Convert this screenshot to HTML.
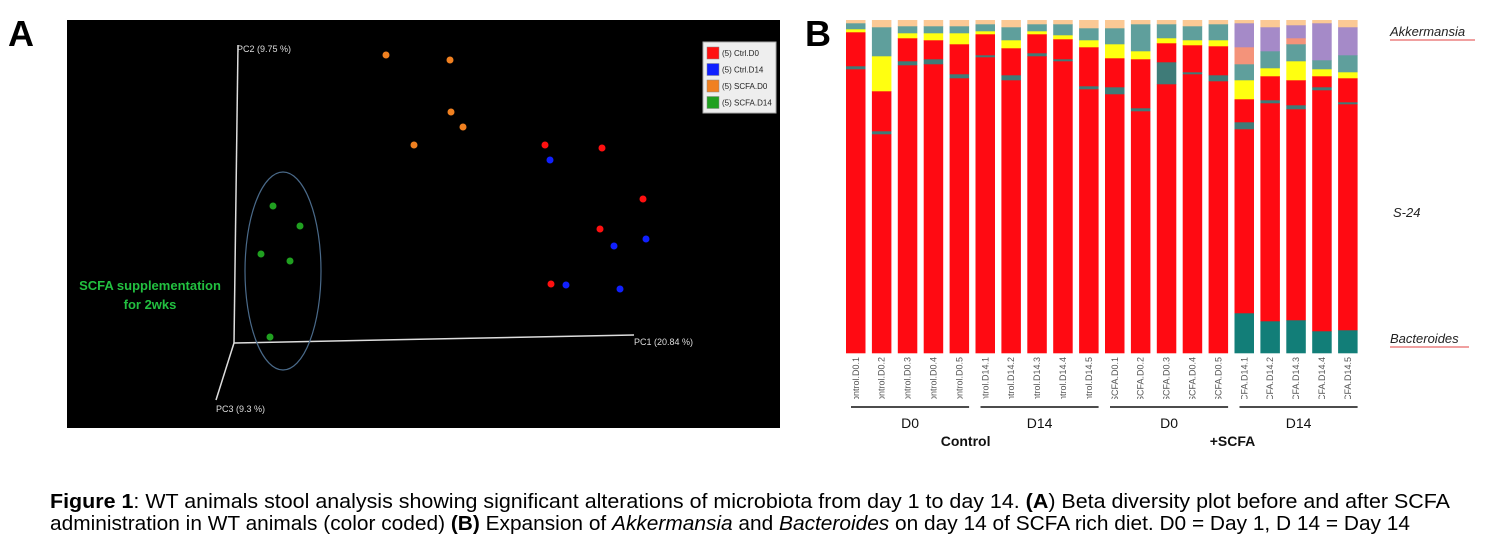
<!DOCTYPE html>
<html><head><meta charset="utf-8"><style>
body{margin:0;background:#fff;width:1486px;height:553px;overflow:hidden;font-family:"Liberation Sans",sans-serif}
</style></head><body>
<svg width="1486" height="553" xmlns="http://www.w3.org/2000/svg" font-family="Liberation Sans, sans-serif">
<text x="8" y="46" font-size="36" font-weight="bold">A</text>
<text x="805" y="46" font-size="36" font-weight="bold">B</text>
<rect x="67" y="20" width="713" height="408" fill="#000"/>
<g id="pcoa">
<line x1="234" y1="343" x2="238" y2="45" stroke="#ddd" stroke-width="1.5"/>
<line x1="234" y1="343" x2="634" y2="335" stroke="#ddd" stroke-width="1.5"/>
<line x1="234" y1="343" x2="216" y2="400" stroke="#ddd" stroke-width="1.5"/>
<text x="237" y="52" fill="#ddd" font-size="9">PC2 (9.75 %)</text>
<text x="634" y="345" fill="#ddd" font-size="9">PC1 (20.84 %)</text>
<text x="216" y="412" fill="#ddd" font-size="9">PC3 (9.3 %)</text>
<ellipse cx="283" cy="271" rx="38" ry="99" fill="none" stroke="#4a6a8a" stroke-width="1.2"/>
<text x="150" y="290" fill="#22c040" font-size="13" font-weight="bold" text-anchor="middle">SCFA supplementation</text>
<text x="150" y="309" fill="#22c040" font-size="13" font-weight="bold" text-anchor="middle">for 2wks</text>
<rect x="703" y="42" width="73" height="71" fill="#eee" stroke="#aaa"/>
</g>
<g id="bars"></g>
<text x="1390" y="36" font-size="13" font-style="italic" fill="#222">Akkermansia</text>
<line x1="1390" y1="40" x2="1475" y2="40" stroke="#e04040" stroke-width="1"/>
<text x="1393" y="217" font-size="13" font-style="italic" fill="#222">S-24</text>
<text x="1390" y="343" font-size="13" font-style="italic" fill="#222">Bacteroides</text>
<line x1="1390" y1="347" x2="1469" y2="347" stroke="#e04040" stroke-width="1"/>
<text x="50" y="508" font-size="20.5" fill="#000" textLength="1400" lengthAdjust="spacingAndGlyphs"><tspan font-weight="bold">Figure 1</tspan>: WT animals stool analysis showing significant alterations of microbiota from day 1 to day 14. <tspan font-weight="bold">(A</tspan>) Beta diversity plot before and after SCFA</text>
<text x="50" y="530" font-size="20.5" fill="#000" textLength="1360" lengthAdjust="spacingAndGlyphs">administration in WT animals (color coded) <tspan font-weight="bold">(B)</tspan> Expansion of <tspan font-style="italic">Akkermansia</tspan> and <tspan font-style="italic">Bacteroides</tspan> on day 14 of SCFA rich diet. D0 = Day 1, D 14 = Day 14</text>
</svg>
<script>
// PCoA data (screen-projected coordinates)
const groups=["(5) Ctrl.D0","(5) Ctrl.D14","(5) SCFA.D0","(5) SCFA.D14"];
const groupColors=["#ff1010","#1020ff","#f08020","#20a020"];
const pcX=[[545,602,643,600,551],[550,614,646,566,620],[386,450,451,463,414],[273,300,261,290,270]];
const pcY=[[145,148,199,229,284],[160,246,239,285,289],[55,60,112,127,145],[206,226,254,261,337]];
// Bar chart data (relative abundance, normalized per sample)
const samples=["Control.D0.1","Control.D0.2","Control.D0.3","Control.D0.4","Control.D0.5","Control.D14.1","Control.D14.2","Control.D14.3","Control.D14.4","Control.D14.5","SCFA.D0.1","SCFA.D0.2","SCFA.D0.3","SCFA.D0.4","SCFA.D0.5","SCFA.D14.1","SCFA.D14.2","SCFA.D14.3","SCFA.D14.4","SCFA.D14.5"];
const taxa=["Bacteroides","S-24 a","minor","S-24 b","yellow","cadet","salmon","Akkermansia","peach"];
const taxaColors=["#127e78","#ff0a12","#3f7b78","#ff0a12","#ffff10","#5f9f9c","#f4937a","#a58ac8","#fbc995"];
const bacteroides=[0,0,0,0,0,0,0,0,0,0,0,0,0,0,0,40,32,33,22,23];
const s24a=[284,219,288,289,275,296,273,297,292,264,259,242,269,279,272,184,218,211,241,226];
const minor=[3,3,4,5,4,2,5,3,2,3,7,3,22,2,6,7,3,4,3,2];
const s24b=[34,40,23,19,30,21,27,19,20,39,29,49,19,27,29,23,24,25,11,24];
const yellow=[3,35,5,7,11,3,8,3,4,7,14,8,5,5,6,19,8,19,7,6];
const cadet=[6,29,7,7,7,7,13,7,11,12,16,27,14,14,16,16,17,17,9,17];
const salmon=[0,0,0,0,0,0,0,0,0,0,0,0,0,0,0,17,0,6,0,0];
const akkermansia=[0,0,0,0,0,0,0,0,0,0,0,0,0,0,0,24,24,13,37,28];
const peach=[3,7,6,6,6,4,7,4,4,8,8,4,4,6,4,3,7,5,3,7];
const series=[bacteroides,s24a,minor,s24b,yellow,cadet,salmon,akkermansia,peach];

const NS="http://www.w3.org/2000/svg";
function mk(t,a,p){const e=document.createElementNS(NS,t);for(const k in a)e.setAttribute(k,a[k]);p.appendChild(e);return e;}
const pc=document.getElementById('pcoa');
pcX.forEach((xs,g)=>xs.forEach((x,i)=>{
  const c=mk('circle',{cx:x,cy:pcY[g][i],r:3.5,fill:groupColors[g]},pc);
  
  
}));
groups.forEach((g,i)=>{
  const y=47+i*16.5;
  const r=mk('rect',{x:707,y:y,width:12,height:12,fill:groupColors[i],stroke:'#888','stroke-width':0.5},pc);
  
  
  const t=mk('text',{x:722,y:y+9,'font-size':8,fill:'#222'},pc);
  t.textContent=g;
  
  
});

const bg=document.getElementById('bars');
const plotTop=20,plotBot=353,x0=846,step=25.9,bw=19.5;
const xPos=i=>x0+i*step;
samples.forEach((s,i)=>{
  let tot=0;series.forEach(a=>tot+=a[i]);
  let y=plotBot;
  series.forEach((a,k)=>{
    const h=a[i]/tot*(plotBot-plotTop);
    if(h<=0)return;
    y-=h;
    const r=mk('rect',{x:xPos(i),y:y,width:bw,height:h+0.3,fill:taxaColors[k]},bg);
    
    
  });
  const cx=xPos(i)+bw/2+3;
  const t=mk('text',{x:cx,y:357,'font-size':9,fill:'#555','text-anchor':'end',transform:'rotate(-90 '+cx+' 357)'},bg);
  t.textContent=s;
  
  
});
const m=mk('rect',{x:830,y:399,width:540,height:60,fill:'#fff'},bg);


const grp=["D0","D14","D0","D14"];
grp.forEach((g,j)=>{
  const a=xPos(j*5)+5,b=xPos(j*5+4)+bw;
  const l=mk('line',{x1:a,y1:407,x2:b,y2:407,stroke:'#111','stroke-width':1.5},bg);
  
  
  const t=mk('text',{x:(a+b)/2,y:428,'font-size':14,'text-anchor':'middle',fill:'#111'},bg);
  t.textContent=g;
  
  
});
[["Control",xPos(4)+16],["+SCFA",xPos(15)-2]].forEach(([s,x])=>{
  const t=mk('text',{x:x,y:446,'font-size':14,'font-weight':'bold','text-anchor':'middle',fill:'#111'},bg);
  t.textContent=s;
  
  
});
</script>
</body></html>
